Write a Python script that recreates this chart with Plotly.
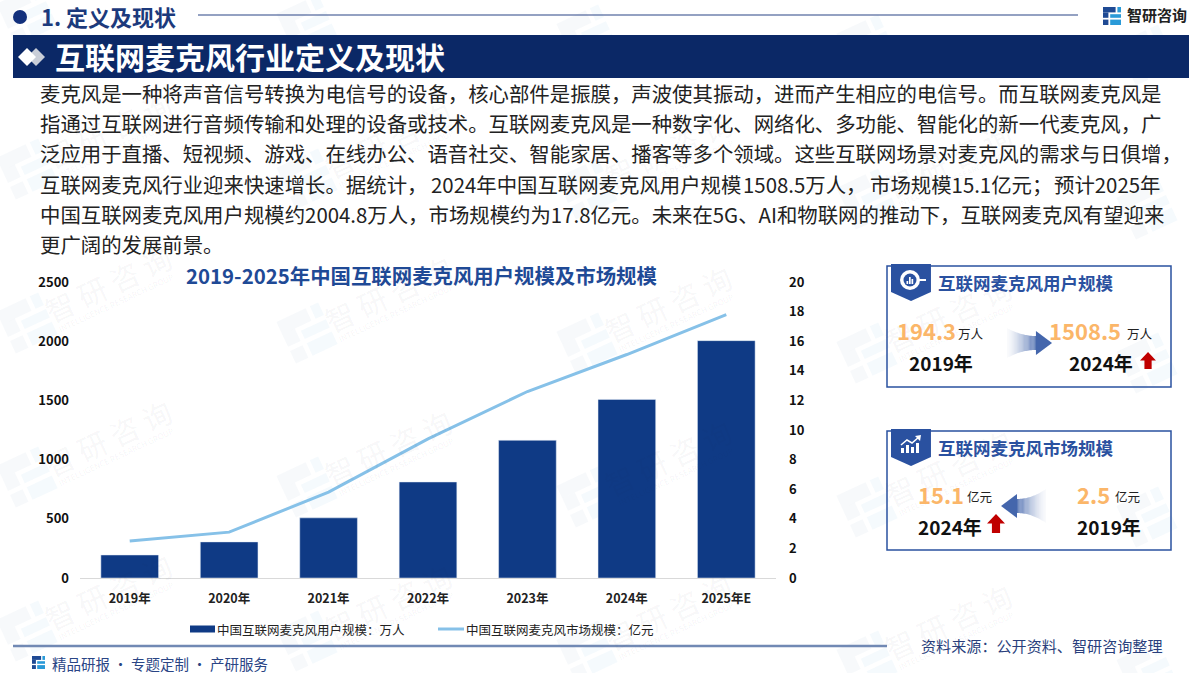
import math
import plotly.graph_objects as go

years = ['2019年', '2020年', '2021年', '2022年', '2023年', '2024年', '2025年E']
users = [194.3, 305, 508, 811, 1163, 1508.5, 2004.8]
market = [2.5, 3.1, 5.8, 9.4, 12.6, 15.1, 17.8]
users_ticks = [0, 500, 1000, 1500, 2000, 2500]
market_ticks = [0, 2, 4, 6, 8, 10, 12, 14, 16, 18, 20]

body_lines = [
    '麦克风是一种将声音信号转换为电信号的设备，核心部件是振膜，声波使其振动，进而产生相应的电信号。而互联网麦克风是',
    '指通过互联网进行音频传输和处理的设备或技术。互联网麦克风是一种数字化、网络化、多功能、智能化的新一代麦克风，广',
    '泛应用于直播、短视频、游戏、在线办公、语音社交、智能家居、播客等多个领域。这些互联网场景对麦克风的需求与日俱增，',
    '',
    '中国互联网麦克风用户规模约2004.8万人，市场规模约为17.8亿元。未来在5G、AI和物联网的推动下，互联网麦克风有望迎来',
    '更广阔的发展前景。',
]
# the fourth line is justified in the reference, so it goes in pieces
line4_parts = ['互联网麦克风行业迎来快速增长。据统计，', '2024年中国互联网麦克风用户规模',
               '1508.5万人，', '市场规模15.1亿元；', '预计2025年']

W, H = 1200, 673
CJK = 'Noto Sans CJK SC'
NAVY = '#0b2866'
BAR = '#0f3a85'
LINE = '#86c1e8'
CARD = '#2a51a0'
ORANGE = '#fbb669'
RED = '#c00000'

fig = go.Figure()
fig.add_bar(x=years, y=users, name='中国互联网麦克风用户规模：万人', marker_color=BAR, yaxis='y')
fig.add_scatter(x=years, y=market, name='中国互联网麦克风市场规模：亿元', mode='lines',
                line=dict(color=LINE, width=3), yaxis='y2')


def px(x):
    return x / W


def py(y):
    return 1 - y / H


def text(x, y, s, size, color='#222222', bold=False, anchor='left', angle=0):
    if bold:
        s = '<b>' + s + '</b>'
    fig.add_annotation(xref='paper', yref='paper', x=px(x), y=py(y), text=s, showarrow=False,
                       xanchor=anchor, yanchor='middle', textangle=angle, borderpad=0, borderwidth=0,
                       font=dict(family=CJK, size=size, color=color))


def rect(x0, y0, x1, y1, fill=None, line=None, width=1, layer='above'):
    fig.add_shape(type='rect', xref='paper', yref='paper', x0=px(x0), y0=py(y0), x1=px(x1), y1=py(y1),
                  fillcolor=fill, line=dict(color=line, width=width if line else 0), layer=layer)


def poly(points, fill, layer='above'):
    d = 'M' + ' L'.join('%.4f,%.4f' % (px(a), py(b)) for a, b in points) + ' Z'
    fig.add_shape(type='path', xref='paper', yref='paper', path=d, fillcolor=fill, line_width=0, layer=layer)


def circle(cx, cy, r, fill):
    fig.add_shape(type='circle', xref='paper', yref='paper', x0=px(cx - r), y0=py(cy + r), x1=px(cx + r), y1=py(cy - r),
                  fillcolor=fill, line_width=0)


# logo drawn on a 10x10 grid: (x0, y0, x1, y1, dark part or not)
LOGO_BLOCKS = [(0, 0, 7, 3, True), (0, 3, 3, 6, True), (0, 7, 3, 10, True),
               (8, 0, 10, 3, False), (4, 4, 10, 6, False), (4, 7, 10, 10, False)]


def logo(x, y, s):
    for a, b, c, d, dark in LOGO_BLOCKS:
        rect(x + a * s, y + b * s, x + c * s, y + d * s, fill='#1f4a94' if dark else '#2a9ad8')


def faint_logo(cx, cy, s):
    t = math.radians(-25)
    for a, b, c, d, dark in LOGO_BLOCKS:
        pts = []
        for u, v in [(a, b), (c, b), (c, d), (a, d)]:
            u, v = (u - 5) * s, (v - 5) * s
            pts.append((cx + u * math.cos(t) - v * math.sin(t), cy + u * math.sin(t) + v * math.cos(t)))
        poly(pts, 'rgba(50,90,150,0.04)' if dark else 'rgba(60,150,215,0.05)', layer='below')


# watermark tiles
for r in range(-2, 5):
    for c in range(5):
        lx = 27 + 280 * c
        ly = 15 + 154 * r + 10 * c
        tx, ty = lx + 81, ly - 40
        if ty < 45 or ty > H - 45 or tx > W - 60:
            if -30 < ly < H + 30:
                faint_logo(lx, ly, 4.6)
            continue
        faint_logo(lx, ly, 4.6)
        text(tx, ty, '智 研 咨 询', 29, color='rgba(40,55,90,0.05)', anchor='center', angle=-25)
        text(tx + 8, ty + 19, 'INTELLIGENCE RESEARCH GROUP', 8, color='rgba(40,55,90,0.055)', anchor='center', angle=-25)

# header
circle(20, 17, 7, '#12307c')
text(41, 16, '1. 定义及现状', 22, color='#1c3a7c', bold=True)
fig.add_shape(type='line', xref='paper', yref='paper', x0=px(198), y0=py(15), x1=px(1078), y1=py(15),
              line=dict(color='#2a4585', width=1.2))
logo(1103, 7, 1.8)
text(1127, 14, '智研咨询', 15, color='#222222', bold=True)

# title band
rect(13, 35, 1189, 78, fill=NAVY)
poly([(36, 48), (45, 57), (36, 66), (27, 57)], '#c9ced8')
poly([(27, 48), (36, 57), (27, 66), (18, 57)], '#ffffff')
text(55, 56, '互联网麦克风行业定义及现状', 30, color='#ffffff', bold=True)

for i, line in enumerate(body_lines):
    if line:
        text(40, 93 + i * 30.2, line, 20.4, color='#222222')
for part, x in zip(line4_parts, [40, 431, 743, 870, 1054]):
    text(x, 93 + 3 * 30.2, part, 20.4, color='#222222')

text(421, 275, '2019-2025年中国互联网麦克风用户规模及市场规模', 20.4, color='#1f4a96', bold=True, anchor='center')


def card(y0, y1, title):
    rect(887, y0, 1171, y1, line=CARD, width=1.5)
    poly([(891, y0 - 2), (931, y0 - 2), (931, y0 + 26), (911, y0 + 35), (891, y0 + 26)], CARD)
    text(938, y0 + 16, title, 17.5, color=CARD, bold=True)


def grad_arrow(tail, tip, y, tail_half, neck_half, head_half, head_len):
    # blue arrow that fades out towards its tail, drawn as thin strips
    n = 24
    sign = 1 if tip > tail else -1
    base = tip - sign * head_len
    for k in range(n):
        t0, t1 = k / n, (k + 1) / n
        a = 0.02 + 0.75 * t1 ** 1.5
        h0 = neck_half + (tail_half - neck_half) * (1 - t0) ** 2
        h1 = neck_half + (tail_half - neck_half) * (1 - t1) ** 2
        xa = tail + (base - tail) * t0
        xb = tail + (base - tail) * t1
        poly([(xa, y - h0), (xb, y - h1), (xb, y + h1), (xa, y + h0)], 'rgba(42,81,160,%.3f)' % a)
    poly([(base, y - head_half), (tip, y), (base, y + head_half)], 'rgba(42,81,160,0.88)')


def up_arrow(cx, top, half, height):
    neck = half * 0.45
    mid = top + height * 0.5
    poly([(cx, top), (cx + half, mid), (cx + neck, mid), (cx + neck, top + height),
          (cx - neck, top + height), (cx - neck, mid), (cx - half, mid)], RED)


# user card
card(266, 387, '互联网麦克风用户规模')
circle(910, 280, 10, '#ffffff')
circle(910, 280, 6.5, CARD)
rect(919, 279, 926, 281, fill='#ffffff')
for bx, bt in [(906.5, 281), (909, 277), (911.5, 279)]:
    rect(bx, bt, bx + 1.7, 284, fill='#ffffff')
text(897, 330, '194.3', 22, color=ORANGE, bold=True)
text(958, 333, '万人', 12.5, color='#222222')
text(909, 362, '2019年', 19, color='#111111', bold=True)
grad_arrow(1007, 1052, 343, 15, 7, 12, 16)
text(1049, 330, '1508.5', 22, color=ORANGE, bold=True)
text(1127, 333, '万人', 12.5, color='#222222')
text(1069, 362, '2024年', 19, color='#111111', bold=True)
up_arrow(1148, 352, 8, 17)

# market card
card(431, 550, '互联网麦克风市场规模')
for bx, bt in [(901, 448), (906, 445), (911, 447), (916, 443)]:
    rect(bx, bt, bx + 3, 453, fill='#ffffff')
fig.add_shape(type='path', xref='paper', yref='paper',
              path='M%.4f,%.4f L%.4f,%.4f L%.4f,%.4f L%.4f,%.4f' % (px(901), py(445), px(907), py(440), px(912), py(443), px(919), py(437)),
              line=dict(color='#ffffff', width=1.5))
poly([(915, 436), (921, 435), (920, 441)], '#ffffff')
text(918, 494, '15.1', 22, color=ORANGE, bold=True)
text(967, 496, '亿元', 12.5, color='#222222')
text(918, 526, '2024年', 19, color='#111111', bold=True)
up_arrow(996, 514, 9, 19)
grad_arrow(1046, 1001, 506, 17, 7, 12, 16)
text(1077, 494, '2.5', 22, color=ORANGE, bold=True)
text(1115, 496, '亿元', 12.5, color='#222222')
text(1077, 526, '2019年', 19, color='#111111', bold=True)

# legend keys and labels
rect(190, 625.5, 215, 632.5, fill=BAR)
text(217, 629, fig.data[0].name, 12.5, color='#222222')
fig.add_shape(type='line', xref='paper', yref='paper', x0=px(438), y0=py(629), x1=px(464), y1=py(629),
              line=dict(color=LINE, width=3))
text(466, 629, fig.data[1].name, 12.5, color='#222222')

# footer
fig.add_shape(type='line', xref='paper', yref='paper', x0=px(13), y0=py(646), x1=px(887), y1=py(646),
              line=dict(color='#7189b4', width=2.5))
logo(32, 656, 1.3)
text(52, 663, '精品研报 · 专题定制 · 产研服务', 14.5, color='#2a4585')
text(1163, 645, '资料来源：公开资料、智研咨询整理', 15.1, color='#2a3f7c', anchor='right')

tick_font = dict(size=13, color='#111111', weight='bold')
fig.update_layout(
    width=W, height=H, autosize=False,
    margin=dict(l=0, r=0, t=0, b=0),
    paper_bgcolor='white', plot_bgcolor='rgba(0,0,0,0)',
    bargap=0.42,
    showlegend=False,
    font=dict(family=CJK, size=12, color='#222222'),
    xaxis=dict(domain=[80 / W, 776 / W], type='category', showgrid=False, showline=True, automargin=False,
               linecolor='#d9d9d9', linewidth=1, ticks='', ticklabelstandoff=9,
               tickfont=dict(size=12.5, color='#222222', weight='bold'), anchor='y'),
    yaxis=dict(domain=[1 - 578 / H, 1 - 282 / H], range=[0, 2500], tickvals=users_ticks, automargin=False,
               showgrid=False, zeroline=False, ticks='', ticklabelstandoff=10, tickfont=tick_font),
    yaxis2=dict(domain=[1 - 578 / H, 1 - 282 / H], range=[0, 20], tickvals=market_ticks, automargin=False,
                overlaying='y', side='right', anchor='x', showgrid=False, zeroline=False, ticks='',
                ticklabelstandoff=12, tickfont=tick_font),
)

fig.write_html('out.html', config={'displayModeBar': False},
               post_script="document.body.style.margin='0';document.body.style.overflow='hidden';")
